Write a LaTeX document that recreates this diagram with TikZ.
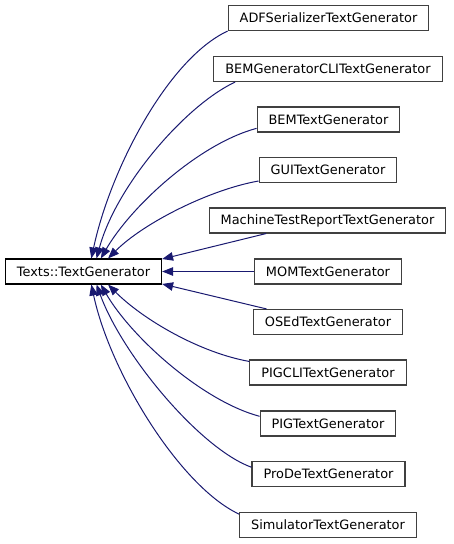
\documentclass[tikz,border=0pt]{standalone}
\usepackage{fontspec}
\setmainfont{DejaVu Sans}
\usetikzlibrary{arrows.meta}
\definecolor{edgeblue}{HTML}{191970}

\begin{document}
\begin{tikzpicture}[x=1pt,y=1pt]
  \tikzset{classbox/.style={rectangle,draw=black!75,fill=white,line width=1.1pt,inner xsep=11.5pt,minimum height=25pt,font=\fontsize{12.9}{15}\selectfont}}
  \tikzset{basebox/.style={classbox,draw=black}}
  \tikzset{inherit/.style={draw=edgeblue,line width=1pt,{Triangle[length=11pt,width=8.5pt]}-}}
  \useasboundingbox (0,0) rectangle (453,-544);
  \node[basebox] (textgen) at (83.5,-271.5) {Texts::TextGenerator};
  \node[classbox] (adfser) at (328.5,-18) {ADFSerializerTextGenerator};
  \node[classbox] (bemgencli) at (328,-69) {BEMGeneratorCLITextGenerator};
  \node[classbox] (bemtext) at (328.5,-119.5) {BEMTextGenerator};
  \node[classbox] (guitext) at (328,-170) {GUITextGenerator};
  \node[classbox] (mtreport) at (327.5,-220.5) {MachineTestReportTextGenerator};
  \node[classbox] (momtext) at (328,-271.5) {MOMTextGenerator};
  \node[classbox] (osedtext) at (328,-322) {OSEdTextGenerator};
  \node[classbox] (pigcli) at (328,-372.5) {PIGCLITextGenerator};
  \node[classbox] (pigtext) at (328,-423.5) {PIGTextGenerator};
  \node[classbox] (prodetext) at (328.5,-474) {ProDeTextGenerator};
  \node[classbox] (simtext) at (328,-525) {SimulatorTextGenerator};
  % upper subclasses
  \draw[inherit] (textgen.59) .. controls +(78:91) and +(205:66) .. (adfser.south west);
  \draw[inherit] (textgen.45) .. controls +(75:75) and +(205:55) .. (bemgencli.188);
  \draw[inherit] (textgen.37) .. controls +(60:60) and +(195:60) .. (bemtext.187);
  \draw[inherit] (textgen.28) .. controls +(45:50) and +(190:50) .. (guitext.189);
  \draw[inherit] (textgen.9.6) -- (mtreport.192);
  \draw[inherit] (textgen.east) -- (momtext.west);
  % lower subclasses
  \draw[inherit] (textgen.-9.6) -- (osedtext.168);
  \draw[inherit] (textgen.-28) .. controls +(-45:50) and +(170:50) .. (pigcli.172);
  \draw[inherit] (textgen.-37) .. controls +(-60:60) and +(165:60) .. (pigtext.174);
  \draw[inherit] (textgen.-45) .. controls +(-70:75) and +(160:55) .. (prodetext.175);
  \draw[inherit] (textgen.-59) .. controls +(-78:90) and +(155:65) .. (simtext.173.5);
\end{tikzpicture}
\end{document}
